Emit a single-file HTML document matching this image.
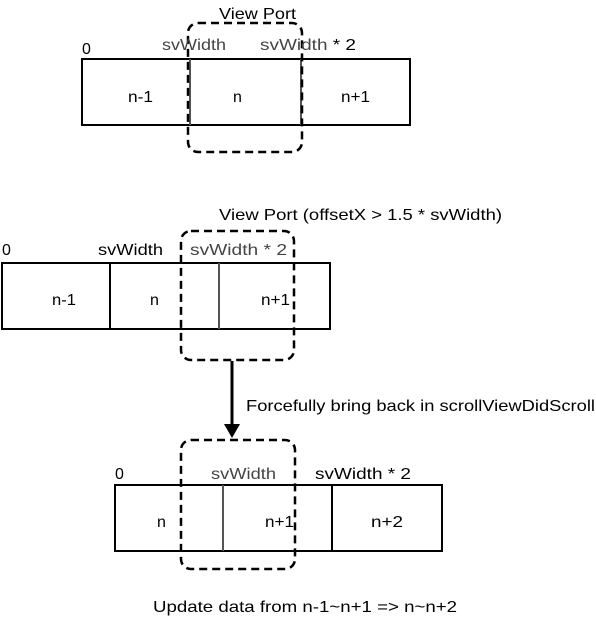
<!DOCTYPE html>
<html><head><style>
html,body{margin:0;padding:0;background:#fff;}
svg{display:block;}
text{font-family:"Liberation Sans",sans-serif;font-size:16px;fill:#000;}
.g{fill:#444;}
</style></head><body>
<svg width="596" height="619" viewBox="0 0 596 619">
<g fill="none" stroke="#000" stroke-width="2">
<rect x="82" y="59" width="328" height="66"/>
<line x1="190" y1="59" x2="190" y2="125" stroke="#555"/>
<line x1="301" y1="59" x2="301" y2="125" stroke="#555"/>
<rect x="188" y="23" width="114" height="129" rx="10" stroke-dasharray="8,5" stroke-width="2.5"/>
<rect x="2" y="263" width="328" height="66"/>
<line x1="110" y1="263" x2="110" y2="329"/>
<line x1="219" y1="263" x2="219" y2="329" stroke="#555"/>
<rect x="181" y="231" width="113" height="129" rx="10" stroke-dasharray="8,5" stroke-width="2.5"/>
<line x1="232" y1="361" x2="232" y2="428" stroke-width="3"/>
<rect x="115" y="485" width="327" height="66"/>
<line x1="223" y1="485" x2="223" y2="551" stroke="#555"/>
<line x1="332" y1="485" x2="332" y2="551"/>
<rect x="181" y="440" width="114" height="129" rx="10" stroke-dasharray="8,5" stroke-width="2.5"/>
</g>
<polygon points="224,424 240,424 232,438" fill="#000"/>
<text x="219" y="19" textLength="77" lengthAdjust="spacingAndGlyphs">View Port</text>
<text x="82" y="54">0</text>
<text x="162" y="50" class="g" textLength="64" lengthAdjust="spacingAndGlyphs">svWidth</text>
<text x="260" y="50" textLength="96" lengthAdjust="spacingAndGlyphs"><tspan class="g">svWidth</tspan> * 2</text>
<text x="128" y="102" textLength="25" lengthAdjust="spacingAndGlyphs">n-1</text>
<text x="233" y="102">n</text>
<text x="341" y="102" textLength="29" lengthAdjust="spacingAndGlyphs">n+1</text>

<text x="219" y="220" textLength="283" lengthAdjust="spacingAndGlyphs">View Port (offsetX &gt; 1.5 * svWidth)</text>
<text x="2" y="255">0</text>
<text x="98" y="255" textLength="65" lengthAdjust="spacingAndGlyphs">svWidth</text>
<text x="190" y="255" class="g" textLength="97" lengthAdjust="spacingAndGlyphs">svWidth * 2</text>
<text x="52" y="305" textLength="24" lengthAdjust="spacingAndGlyphs">n-1</text>
<text x="150" y="305">n</text>
<text x="261" y="305" textLength="29" lengthAdjust="spacingAndGlyphs">n+1</text>
<text x="246" y="411" textLength="349" lengthAdjust="spacingAndGlyphs">Forcefully bring back in scrollViewDidScroll</text>

<text x="115" y="479">0</text>
<text x="211" y="479" class="g" textLength="65" lengthAdjust="spacingAndGlyphs">svWidth</text>
<text x="315" y="479" textLength="96" lengthAdjust="spacingAndGlyphs">svWidth * 2</text>
<text x="157" y="527">n</text>
<text x="265" y="527" textLength="29" lengthAdjust="spacingAndGlyphs">n+1</text>
<text x="371" y="527" textLength="32" lengthAdjust="spacingAndGlyphs">n+2</text>
<text x="153" y="612" textLength="304" lengthAdjust="spacingAndGlyphs">Update data from n-1~n+1 =&gt; n~n+2</text>
</svg>
</body></html>
